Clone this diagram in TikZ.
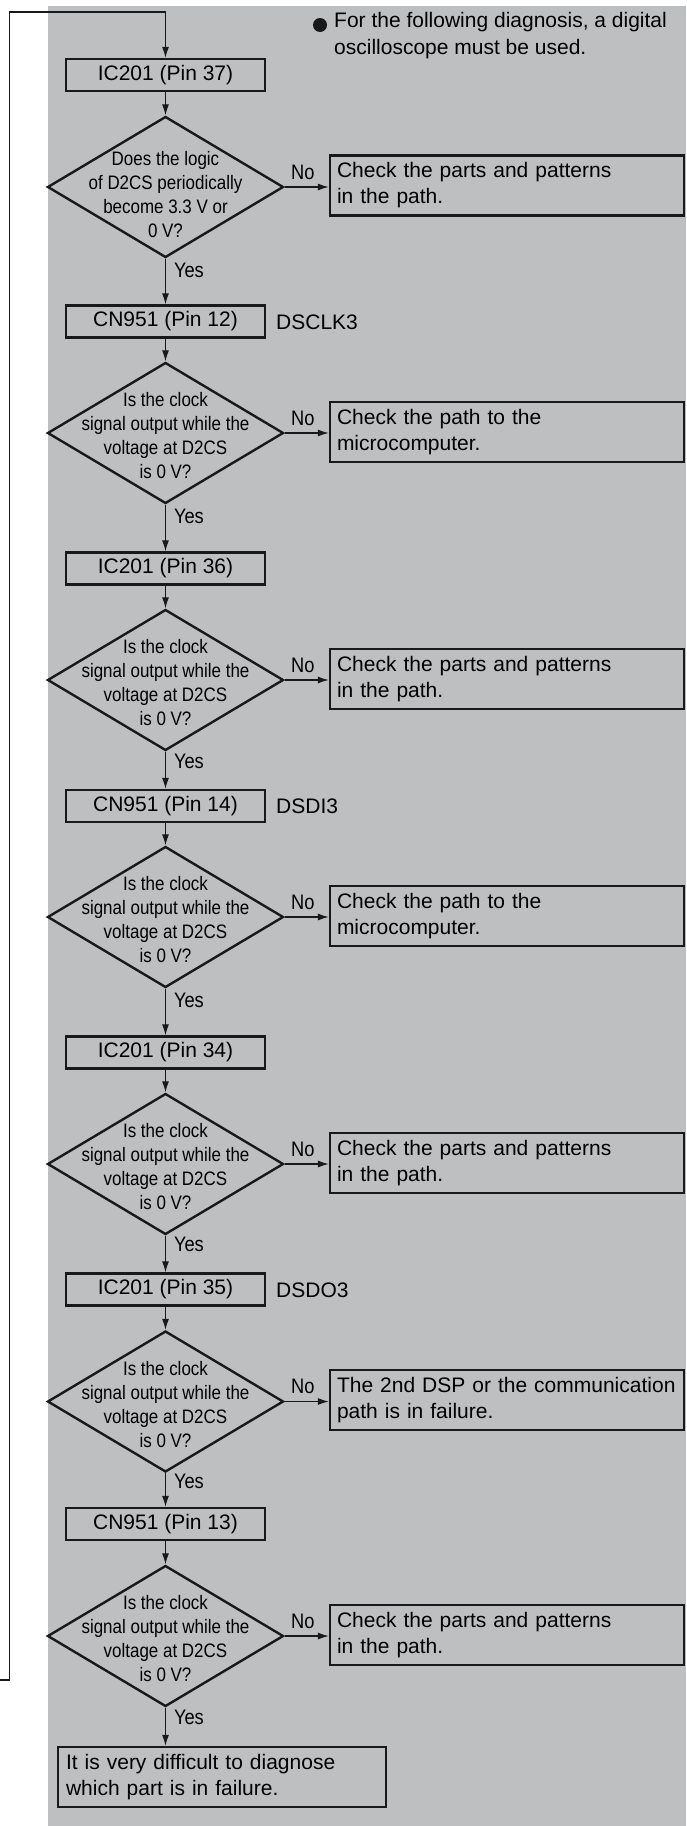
\documentclass[tikz,border=0pt]{standalone}
\usepackage{fontspec}
\setmainfont{Liberation Sans}
\newfontfamily\narrowsans[FakeStretch=0.87]{Liberation Sans}
\usetikzlibrary{arrows.meta,shapes.geometric,calc}
\definecolor{bg}{RGB}{190,191,193}
\definecolor{ln}{RGB}{25,25,25}
\begin{document}
\begin{tikzpicture}[x=1pt,y=-1pt,
  pbox/.style={draw=ln, line width=2.4pt, minimum width=199pt, minimum height=32pt, inner sep=0pt, font=\fontsize{21}{26}\selectfont},
  rbox/.style={draw=ln, line width=2.4pt, minimum width=354pt, minimum height=60pt, text width=340pt, inner xsep=7pt, inner ysep=0pt, align=left, font=\fontsize{21}{26}\selectfont},
  dia/.style={draw=ln, line width=2.4pt, diamond, minimum width=236pt, minimum height=141pt, inner sep=0pt},
  dtext/.style={align=center, font=\narrowsans\fontsize{19.5}{24}\selectfont, inner sep=0pt},
  arr/.style={draw=ln, line width=1.1pt, -{Latex[length=11pt,width=7pt]}},
  nolbl/.style={font=\narrowsans\fontsize{21}{22}\selectfont, inner sep=0pt, midway, xshift=-4pt, yshift=15pt},
  yeslbl/.style={font=\narrowsans\fontsize{21}{22}\selectfont, inner sep=0pt, pos=0.25, anchor=west, xshift=8pt},
  sig/.style={anchor=west, font=\fontsize{21}{26}\selectfont, inner sep=0pt},
  note/.style={anchor=north west, align=left, font=\fontsize{21}{27}\selectfont, inner sep=0pt}
]
\useasboundingbox (0,0) rectangle (686,1826);
\fill[bg] (48,6) rectangle (686,1826);

% note
\fill[ln] (320,25) circle (7pt);
\node[note] (nt) at (334,12) {For the following diagnosis, a digital\\oscilloscope must be used.};

% main column
\node[pbox] (b1) at (165.5,75) {IC201 (Pin 37)};
\node[dia] (d1) at (165.5,187) {};
\node[dtext, yshift=-8pt] at (d1) {Does the logic\\of D2CS periodically\\become 3.3 V or\\0 V?};
\node[rbox] (r1) at (507,185.5) {Check the parts and patterns\\in the path.};

\node[pbox] (b2) at (165.5,321.5) {CN951 (Pin 12)};
\node[sig] (s2) at (276,322) {DSCLK3};
\node[dia] (d2) at (165.5,433) {};
\node[dtext, yshift=-3pt] at (d2) {Is the clock\\signal output while the\\voltage at D2CS\\is 0 V?};
\node[rbox] (r2) at (507,432) {Check the path to the\\microcomputer.};

\node[pbox] (b3) at (165.5,568.5) {IC201 (Pin 36)};
\node[dia] (d3) at (165.5,680) {};
\node[dtext, yshift=-3pt] at (d3) {Is the clock\\signal output while the\\voltage at D2CS\\is 0 V?};
\node[rbox] (r3) at (507,679) {Check the parts and patterns\\in the path.};

\node[pbox] (b4) at (165.5,806) {CN951 (Pin 14)};
\node[sig] (s4) at (276,806) {DSDI3};
\node[dia] (d4) at (165.5,917) {};
\node[dtext, yshift=-3pt] at (d4) {Is the clock\\signal output while the\\voltage at D2CS\\is 0 V?};
\node[rbox] (r4) at (507,916) {Check the path to the\\microcomputer.};

\node[pbox] (b5) at (165.5,1052.5) {IC201 (Pin 34)};
\node[dia] (d5) at (165.5,1164) {};
\node[dtext, yshift=-3pt] at (d5) {Is the clock\\signal output while the\\voltage at D2CS\\is 0 V?};
\node[rbox] (r5) at (507,1163) {Check the parts and patterns\\in the path.};

\node[pbox] (b6) at (165.5,1289.5) {IC201 (Pin 35)};
\node[sig] (s6) at (276,1290) {DSDO3};
\node[dia] (d6) at (165.5,1401.5) {};
\node[dtext, yshift=-3pt] at (d6) {Is the clock\\signal output while the\\voltage at D2CS\\is 0 V?};
\node[rbox] (r6) at (507,1400) {The 2nd DSP or the communication\\path is in failure.};

\node[pbox] (b7) at (165.5,1524) {CN951 (Pin 13)};
\node[dia] (d7) at (165.5,1636) {};
\node[dtext, yshift=-3pt] at (d7) {Is the clock\\signal output while the\\voltage at D2CS\\is 0 V?};
\node[rbox] (r7) at (507,1635) {Check the parts and patterns\\in the path.};

\node[rbox, minimum width=328pt, text width=312pt, inner xsep=8pt] (fin) at (222,1777) {It is very difficult to diagnose\\which part is in failure.};

% connectors
\foreach \i in {1,...,7} {
  \draw[arr] (b\i.south) -- (d\i.north);
  \draw[arr] (d\i.east) -- node[nolbl] {No} (r\i.west |- d\i.east);
}
\foreach \i/\j in {1/2,2/3,3/4,4/5,5/6,6/7} {
  \draw[arr] (d\i.south) -- node[yeslbl] {Yes} (b\j.north);
}
\draw[arr] (d7.south) -- node[yeslbl] {Yes} (fin.north -| d7.south);

% feedback loop
\coordinate (fbL) at (0,1680);
\coordinate (fbT) at (0,12);
\draw[arr] (fbL) -- (9.5,1680) |- (b1.north |- fbT) -- (b1.north);
\end{tikzpicture}
\end{document}
